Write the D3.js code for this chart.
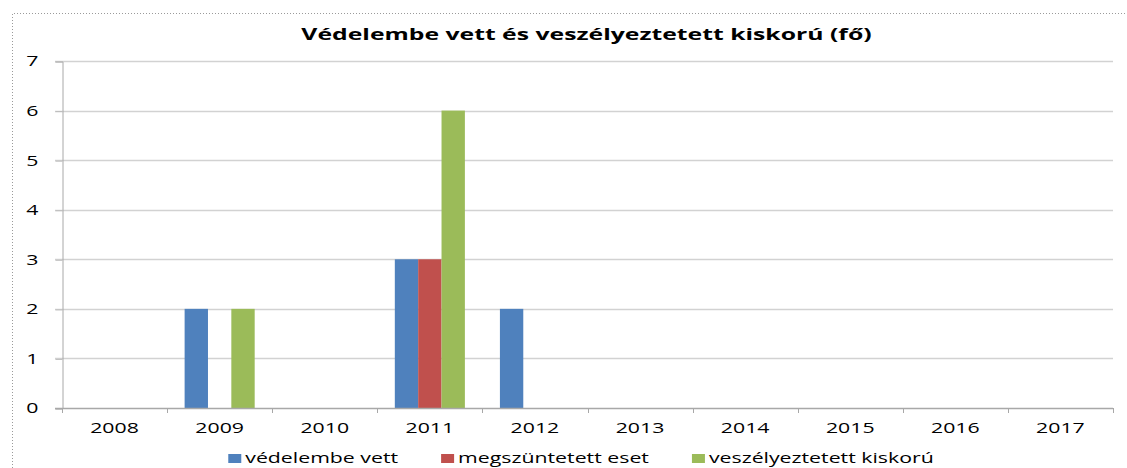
<!DOCTYPE html>
<html>
<head>
<meta charset="utf-8">
<script src="https://cdn.jsdelivr.net/npm/d3@7"></script>
<style>
  body { margin: 0; background: #fff; }
  text { font-family: "Open Sans", Lato, sans-serif; fill: #000; }
</style>
</head>
<body>
<svg id="chart" width="1127" height="468"></svg>
<script>
const years = ["2008", "2009", "2010", "2011", "2012", "2013", "2014", "2015", "2016", "2017"];
const seriesNames = ["védelembe vett", "megszüntetett eset", "veszélyeztetett kiskorú"];
const vedelembe = [0, 2, 0, 3, 2, 0, 0, 0, 0, 0];
const megszuntetett = [0, 0, 0, 3, 0, 0, 0, 0, 0, 0];
const veszelyeztetett = [0, 2, 0, 6, 0, 0, 0, 0, 0, 0];
const yTicks = [0, 1, 2, 3, 4, 5, 6, 7];
const colors = ["#4f81bd", "#c0504d", "#9bbb59"];
const title = "Védelembe vett és veszélyeztetett kiskorú (fő)";

const svg = d3.select("#chart");

// the source picture is stretched sideways, so stretch the text too
const stretchK = 1.52;
function stretch(sel) {
  sel.each(function () {
    const w = this.getComputedTextLength();
    d3.select(this).attr("textLength", w * stretchK).attr("lengthAdjust", "spacingAndGlyphs");
  });
}

const margin = { top: 61, right: 14, bottom: 60, left: 62 };
const width = 1127 - margin.left - margin.right;
const height = 468 - margin.top - margin.bottom;

// dotted frame (top and left edge only visible)
svg.append("path")
  .attr("d", "M12.5,468 V13.5 H1127")
  .attr("fill", "none")
  .attr("stroke", "#9a9a9a")
  .attr("stroke-dasharray", "1,2");

const x = d3.scaleBand()
  .domain(years)
  .range([margin.left, margin.left + width])
  .paddingInner(0)
  .paddingOuter(0);

const xInner = d3.scaleBand()
  .domain(seriesNames)
  .range([0, x.bandwidth()])
  .paddingInner(0)
  .paddingOuter(0.75);

const y = d3.scaleLinear()
  .domain([0, 7])
  .range([margin.top + height, margin.top]);

// grid lines
svg.append("g")
  .selectAll("line")
  .data(yTicks.filter(d => d > 0))
  .enter()
  .append("line")
  .attr("x1", margin.left - 7)
  .attr("x2", margin.left + width)
  .attr("y1", d => Math.round(y(d)) + 0.5)
  .attr("y2", d => Math.round(y(d)) + 0.5)
  .attr("stroke", "#d2d2d2")
  .attr("stroke-width", 1.5);

// bars
const series = [vedelembe, megszuntetett, veszelyeztetett];
series.forEach((vals, i) => {
  svg.append("g")
    .selectAll("rect")
    .data(vals.map((v, j) => ({ year: years[j], value: v })).filter(d => d.value > 0))
    .enter()
    .append("rect")
    .attr("x", d => x(d.year) + xInner(seriesNames[i]))
    .attr("width", xInner.bandwidth())
    .attr("y", d => y(d.value))
    .attr("height", d => y(0) - y(d.value))
    .attr("fill", colors[i]);
});

// y axis
const yAxis = svg.append("g")
  .attr("transform", `translate(${margin.left + 0.5}, 0.5)`)
  .call(d3.axisLeft(y).tickValues(yTicks).tickFormat(d3.format("d")).tickSize(7).tickPadding(17));
yAxis.select(".domain").attr("stroke", "#a8a8a8");
yAxis.selectAll(".tick line").attr("stroke", "#bdbdbd");
yAxis.selectAll(".tick text")
  .attr("font-size", 14)
  .attr("font-family", "\"Open Sans\", sans-serif")
  .attr("fill", "#000")
  .call(stretch);

// x axis: baseline + ticks on category borders
const xg = svg.append("g");
xg.append("line")
  .attr("x1", margin.left - 7)
  .attr("x2", margin.left + width)
  .attr("y1", Math.round(y(0)) + 0.5)
  .attr("y2", Math.round(y(0)) + 0.5)
  .attr("stroke", "#a8a8a8")
  .attr("stroke-width", 1.5);

const borders = years.map(d => x(d)).concat([x.range()[1]]);
xg.selectAll(".xtick")
  .data(borders)
  .enter()
  .append("line")
  .attr("class", "xtick")
  .attr("x1", d => Math.round(d) + 0.5)
  .attr("x2", d => Math.round(d) + 0.5)
  .attr("y1", y(0))
  .attr("y2", y(0) + 5)
  .attr("stroke", "#a8a8a8");

xg.selectAll(".xlabel")
  .data(years)
  .enter()
  .append("text")
  .attr("class", "xlabel")
  .attr("x", d => x(d) + x.bandwidth() / 2)
  .attr("y", 433)
  .attr("text-anchor", "middle")
  .attr("font-size", 14)
  .text(d => d)
  .call(stretch);

// title
svg.append("text")
  .attr("x", 586.5)
  .attr("y", 40)
  .attr("text-anchor", "middle")
  .attr("font-size", 16.3)
  .attr("font-weight", "bold")
  .text(title)
  .call(stretch);

// legend
const legend = svg.append("g");
const gap = 43;
let lx = 0;
seriesNames.forEach((name, i) => {
  const item = legend.append("g").attr("transform", `translate(${lx},0)`);
  item.append("rect")
    .attr("x", 0)
    .attr("y", 454)
    .attr("width", 13)
    .attr("height", 9)
    .attr("fill", colors[i]);
  const t = item.append("text")
    .attr("x", 17)
    .attr("y", 463)
    .attr("font-size", 14)
    .text(name)
    .call(stretch);
  lx += 17 + (+t.attr("textLength")) + gap;
});
const legendW = lx - gap;
legend.attr("transform", `translate(${581 - legendW / 2},0)`);
</script>
</body>
</html>
